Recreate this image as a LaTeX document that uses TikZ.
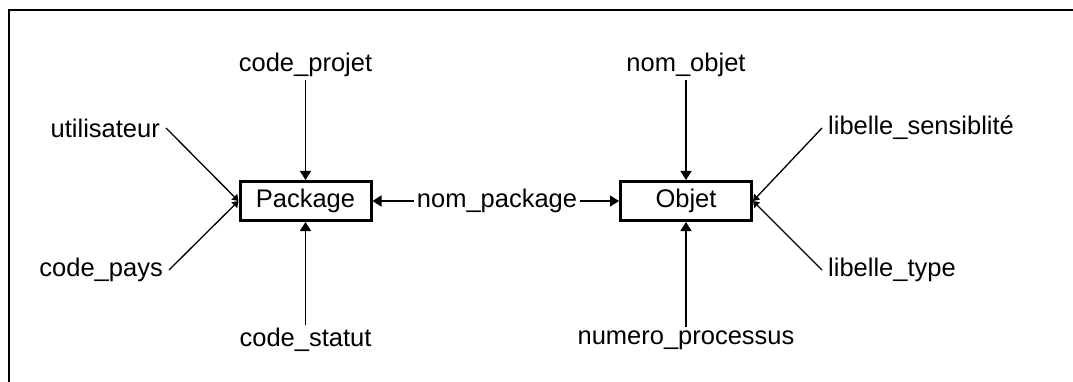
\documentclass[tikz,border=0pt]{standalone}
\usepackage{fontspec}
\setmainfont{Liberation Sans}
\usetikzlibrary{arrows.meta}
\tikzset{
  entity/.style={draw, line width=3pt, minimum width=131pt, minimum height=39pt, inner sep=0pt, font=\fontsize{25.5}{28}\selectfont},
  attr/.style={inner sep=3pt, font=\fontsize{25.5}{28}\selectfont},
  link/.style={line width=1.5pt, -{Triangle[length=9pt,width=11pt]}},
  slant/.style={line width=1.3pt, -{Triangle[length=6pt,width=8pt]}},
}
\begin{document}
\begin{tikzpicture}[x=1pt,y=-1pt]
\useasboundingbox (0,0) rectangle (1073,382);
% open frame: top and left edges only
\draw[line width=2.5pt] (9,382) -- (9,10) -- (1073,10);

% entities
\node[entity] (pkg) at (305.5,201) {Package};
\node[entity] (obj) at (686,201) {Objet};

% attributes of Package
\node[attr] (cp) at (305.5,65) {code\_projet};
\node[attr] (cs) at (305.5,340) {code\_statut};
\node[attr, anchor=east, inner xsep=6pt] (ut) at (166,128) {utilisateur};
\node[attr, anchor=east, inner xsep=6pt] (pays) at (169,270) {code\_pays};

% attributes of Objet
\node[attr] (no) at (686,65) {nom\_objet};
\node[attr] (np) at (686,340) {numero\_processus};
\node[attr, anchor=west, inner xsep=6pt] (ls) at (822,128) {libelle\_sensiblit\'e};
\node[attr, anchor=west, inner xsep=6pt] (lt) at (822,270) {libelle\_type};

% relation
\node[attr] (rel) at (497,201) {nom\_package};

\draw[link] (cp) -- (pkg);
\draw[link] (cs) -- (pkg);
\draw[slant] (ut.east) -- (pkg.west);
\draw[slant] (pays.east) -- (pkg.west);

\draw[link] (no) -- (obj);
\draw[link] (np) -- (obj);
\draw[slant] (ls.west) -- (obj.east);
\draw[slant] (lt.west) -- (obj.east);

\draw[link] (rel) -- (pkg);
\draw[link] (rel) -- (obj);
\end{tikzpicture}
\end{document}
